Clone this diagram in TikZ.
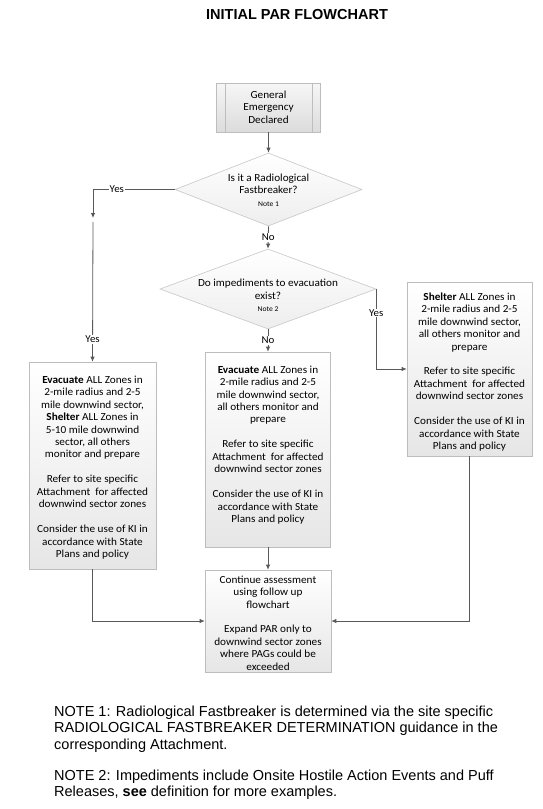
\documentclass[tikz,border=0pt]{standalone}
\usepackage{fontspec}
\setmainfont{Liberation Sans}
\newfontfamily\calfont[FakeStretch=1.04]{Carlito}
\newcommand\smallnotefont{\fontsize{7.3}{9}\selectfont}
\usetikzlibrary{shapes.geometric,arrows.meta,calc}
\definecolor{edgec}{HTML}{595959}
\definecolor{boxb}{HTML}{BDBDBD}
\definecolor{boxbot}{HTML}{E6E6E6}
\definecolor{startbot}{HTML}{DCDCDC}
\definecolor{startop}{HTML}{F6F6F6}
\begin{document}
\begin{tikzpicture}[x=1pt,y=-1pt,
  boxtext/.style={font=\calfont\fontsize{10.8}{12.45}\selectfont, align=center, inner sep=0pt},
  lbl/.style={font=\calfont\fontsize{10.5}{12}\selectfont, fill=white, inner sep=1pt},
  procbox/.style={draw=boxb, line width=0.6pt, top color=white, bottom color=boxbot, inner sep=0pt},
  startbox/.style={draw=boxb, line width=0.6pt, top color=startop, bottom color=startbot, inner sep=0pt},
  decbox/.style={shape=diamond, draw=boxb!85, line width=0.6pt, top color=white, bottom color=boxbot!70, inner sep=0pt},
  conn/.style={draw=edgec, line width=0.8pt, -{Latex[length=5pt,width=4.5pt]}},
  notetext/.style={font=\fontsize{14.5}{16.6}\selectfont, align=left, inner sep=0pt, anchor=north west}
]
\useasboundingbox (0,0) rectangle (543,809);
\fill[white] (0,0) rectangle (543,809);

% title
\node[font=\bfseries\fontsize{14.5}{16}\selectfont, inner sep=0pt] (title) at (297,14.5) {INITIAL PAR FLOWCHART};

% start box
\node[startbox, minimum width=104pt, minimum height=49pt] (start) at (268.5,107.5) {};
\draw[boxb, line width=0.6pt] ($(start.north west)+(9,0)$) -- ($(start.south west)+(9,0)$);
\draw[boxb, line width=0.6pt] ($(start.north east)+(-9,0)$) -- ($(start.south east)+(-9,0)$);
\node[boxtext] (starttxt) at (268.5,107) {General\\Emergency\\Declared};

% diamonds
\node[decbox, minimum width=187pt, minimum height=73pt] (d1) at (268.5,189.5) {};
\node[boxtext] (d1txt) at (268.5,190) {Is it a Radiological\\Fastbreaker?\\{\smallnotefont Note 1}};
\node[decbox, minimum width=216pt, minimum height=80pt] (d2) at (268,289) {};
\node[boxtext] (d2txt) at (268,295.5) {Do impediments to evacuation\\exist?\\{\smallnotefont Note 2}};

% process boxes
\node[procbox, minimum width=127pt, minimum height=207pt] (b1) at (92.5,465.5) {};
\node[boxtext] (b1txt) at (92.5,467.5) {\textbf{Evacuate} ALL Zones in\\2-mile radius and 2-5\\mile downwind sector,\\\textbf{Shelter} ALL Zones in\\5-10 mile downwind\\sector, all others\\monitor and prepare\\[12.45pt]Refer to site specific\\Attachment\ \ for affected\\downwind sector zones\\[12.45pt]Consider the use of KI in\\accordance with State\\Plans and policy};

\node[procbox, minimum width=125pt, minimum height=195pt] (b2) at (268,449.5) {};
\node[boxtext] (b2txt) at (268,445) {\textbf{Evacuate} ALL Zones in\\2-mile radius and 2-5\\mile downwind sector,\\all others monitor and\\prepare\\[12.45pt]Refer to site specific\\Attachment\ \ for affected\\downwind sector zones\\[12.45pt]Consider the use of KI in\\accordance with State\\Plans and policy};

\node[procbox, minimum width=125pt, minimum height=174pt] (b3) at (469.5,369) {};
\node[boxtext] (b3txt) at (469.5,372) {\textbf{Shelter} ALL Zones in\\2-mile radius and 2-5\\mile downwind sector,\\all others monitor and\\prepare\\[12.45pt]Refer to site specific\\Attachment\ \ for affected\\downwind sector zones\\[12.45pt]Consider the use of KI in\\accordance with State\\Plans and policy};

\node[procbox, minimum width=126pt, minimum height=102pt] (b4) at (268,621) {};
\node[boxtext] (b4txt) at (268,623) {Continue assessment\\using follow up\\flowchart\\[12.45pt]Expand PAR only to\\downwind sector zones\\where PAGs could be\\exceeded};

% connectors
\coordinate (yc1) at (93,218);
\coordinate (yc2) at (93,222);
\draw[conn] (start.south) -- (d1.north);
\draw[conn] (d1.south) -- node[lbl, pos=0.5] (no1) {No} (d2.north);
\draw[conn] (d1.west) -| node[lbl, pos=0.354] (yes1) {Yes} (yc1);
\draw[conn] (yc2) -- node[lbl, pos=0.84] (yes2) {Yes} (b1.north);
\draw[conn] (d2.south) -- node[lbl, pos=0.5] (no2) {No} (b2.north);
\draw[conn] (d2.east) |- node[lbl, pos=0.15] (yes3) {Yes} (b3.west);
\draw[conn] (b1.south) |- (b4.west);
\draw[conn] (b3.south) |- (b4.east);
\draw[conn] (b2.south) -- (b4.north);

% notes
\node[notetext] (note1) at (54,705.5) {NOTE 1: Radiological Fastbreaker is determined via the site specific\\RADIOLOGICAL FASTBREAKER DETERMINATION guidance in the\\corresponding Attachment.};
\node[notetext] (note2) at (54,769.5) {NOTE 2: Impediments include Onsite Hostile Action Events and Puff\\Releases, \textbf{see} definition for more examples.};
\end{tikzpicture}
\end{document}
